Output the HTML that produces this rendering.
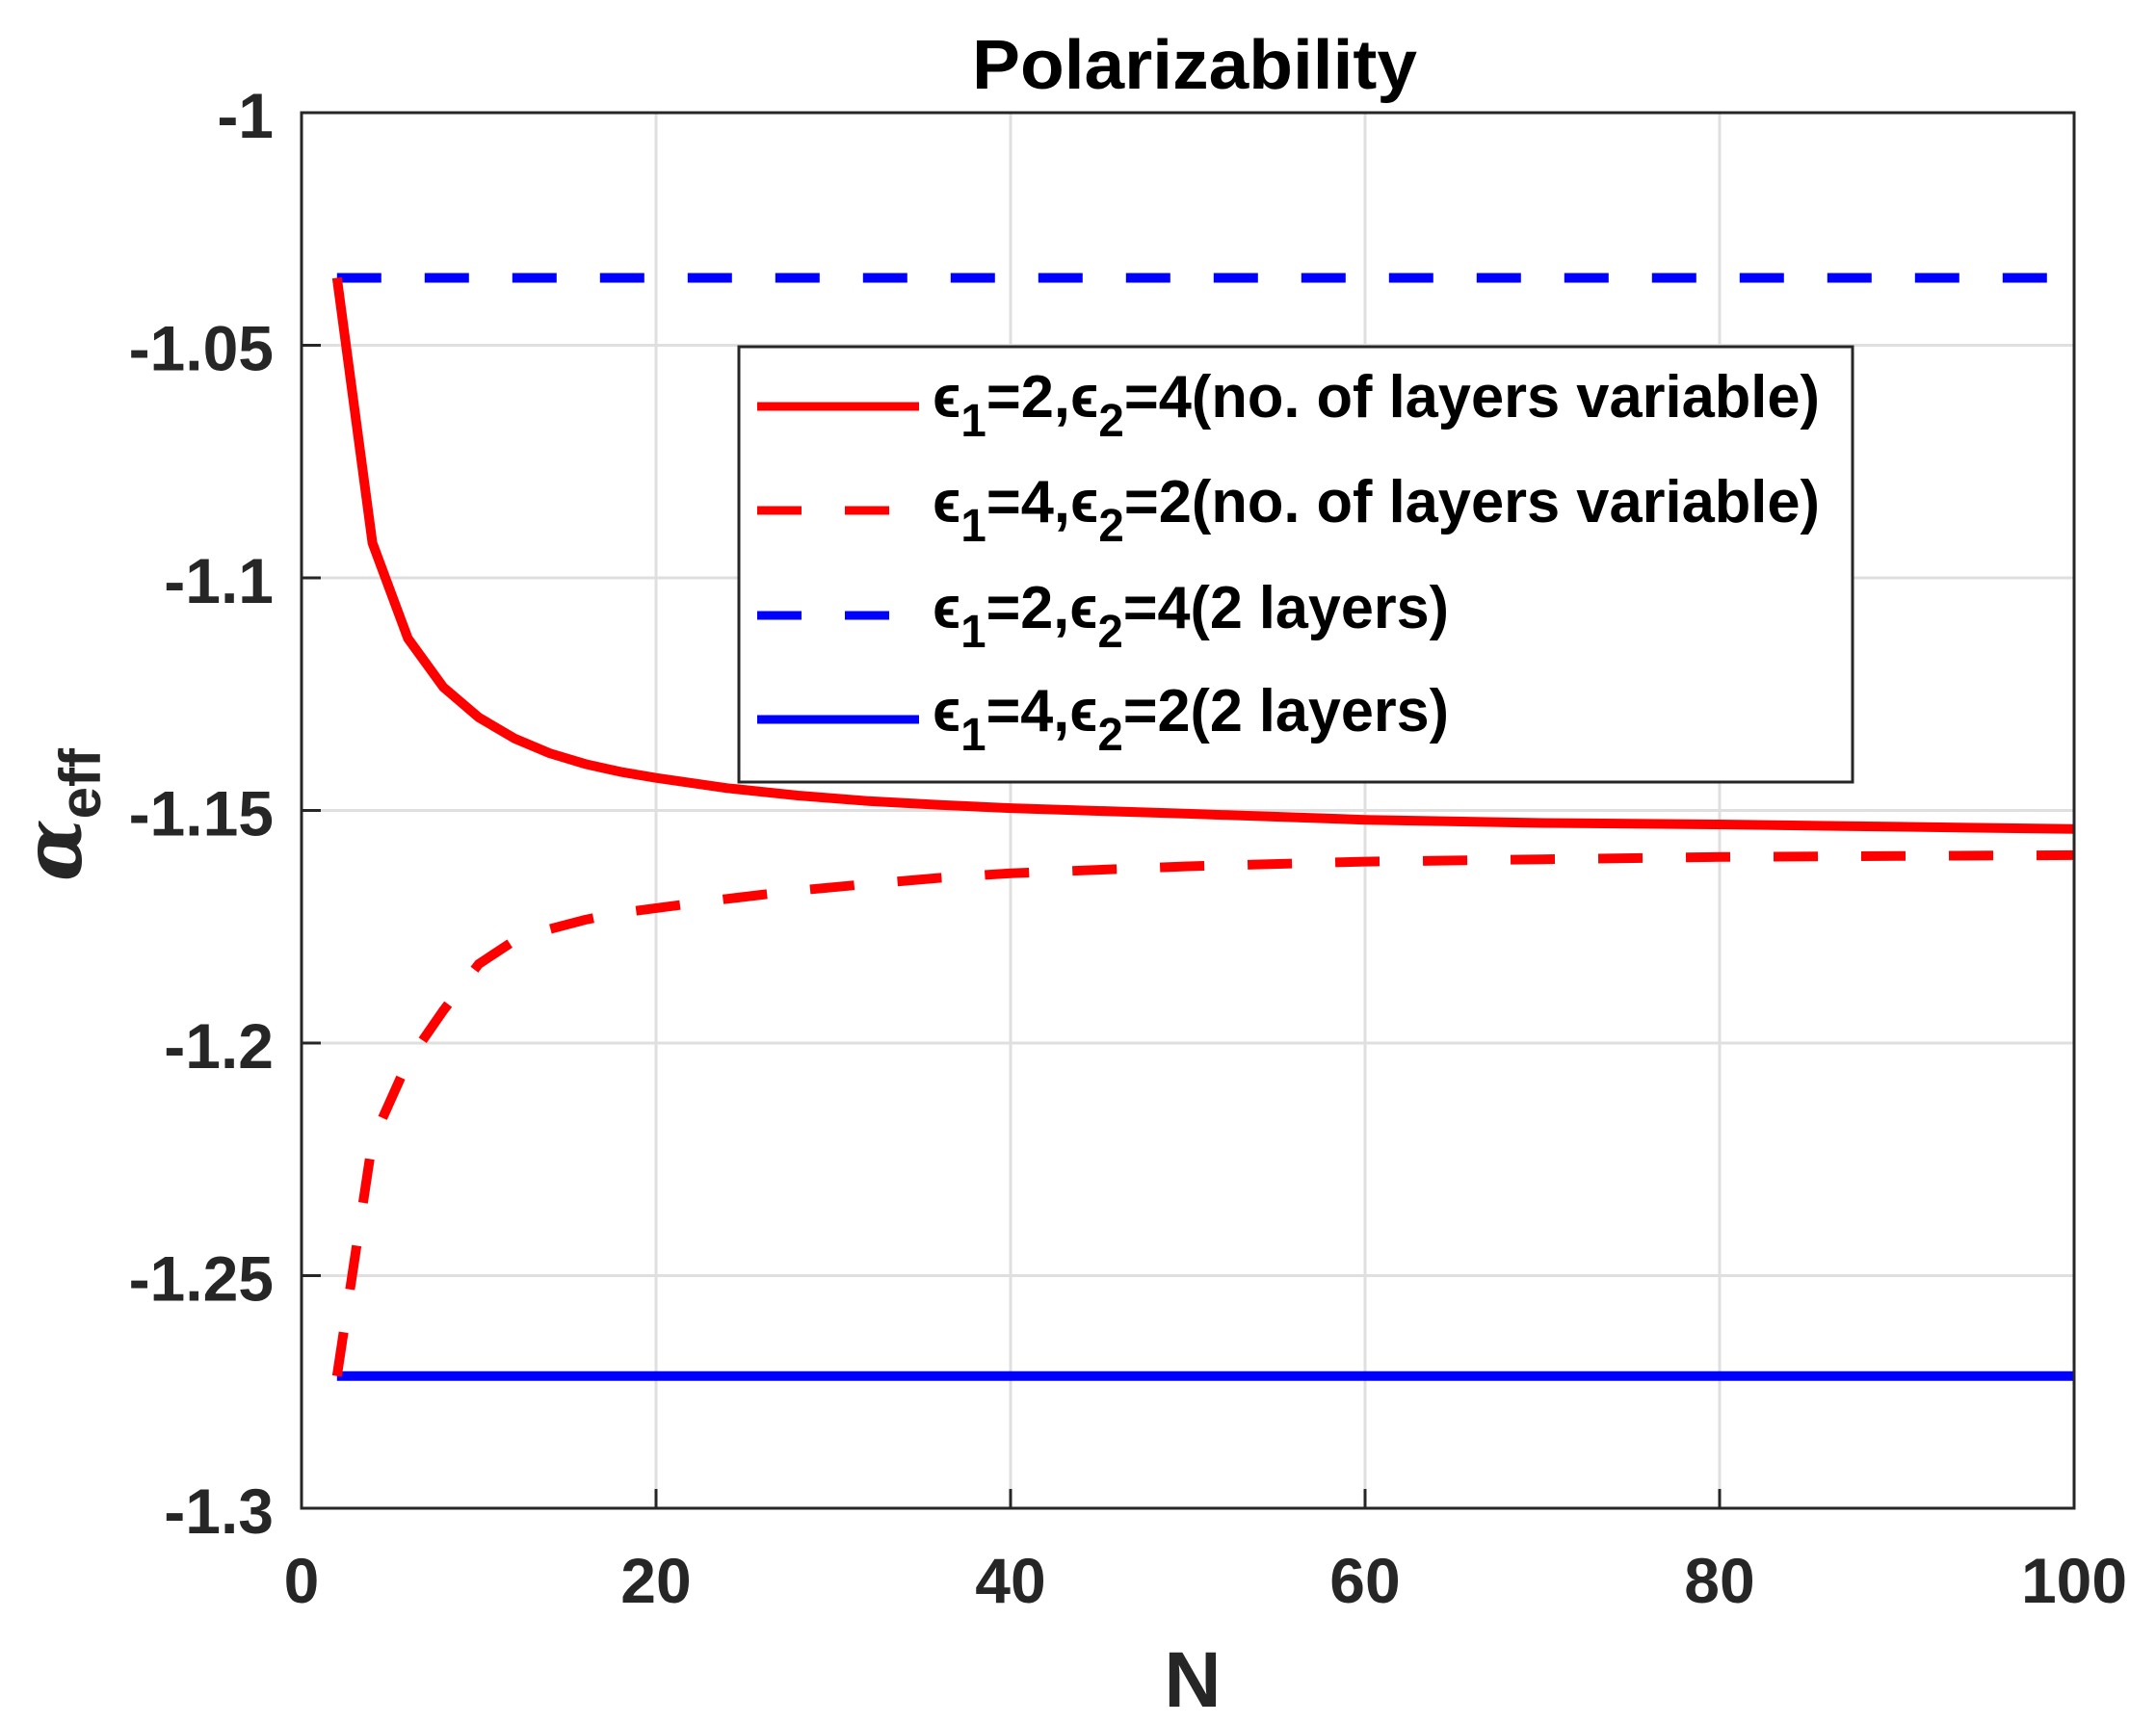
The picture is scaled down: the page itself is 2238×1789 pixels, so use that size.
<!DOCTYPE html>
<html><head><meta charset="utf-8"><style>
html,body{margin:0;padding:0;background:#fff}
svg{display:block;font-family:"Liberation Sans",sans-serif;font-weight:bold}
</style></head><body>
<svg id="chart" width="2238" height="1789" viewBox="0 0 2238 1789">
<rect width="2238" height="1789" fill="#fff"/>
<g id="grid"></g>
<g id="series"></g>
<rect x="313" y="117" width="1840" height="1449" fill="none" stroke="#262626" stroke-width="3"/>
<g id="ticks"></g>
<text x="1240" y="92" text-anchor="middle" font-size="72" textLength="462" lengthAdjust="spacingAndGlyphs" fill="#000">Polarizability</text>
<text x="1238" y="1772" text-anchor="middle" font-size="82" fill="#262626">N</text>
<text transform="translate(84,846) rotate(-90)" text-anchor="middle" font-size="84" fill="#262626"><tspan font-family="DejaVu Serif, serif" font-style="italic">α</tspan><tspan font-size="60" dy="20">eff</tspan></text>
<g>
<rect x="767" y="360" width="1156" height="452" fill="#fff" stroke="#262626" stroke-width="3"/>
<line x1="786" y1="422" x2="954" y2="422" stroke="#f00" stroke-width="9"/>
<line x1="786" y1="530" x2="954" y2="530" stroke="#f00" stroke-width="9" stroke-dasharray="46,45"/>
<line x1="786" y1="639" x2="954" y2="639" stroke="#00f" stroke-width="9" stroke-dasharray="46,45"/>
<line x1="786" y1="747" x2="954" y2="747" stroke="#00f" stroke-width="9"/>
<text x="968" y="433" font-size="62" textLength="921" lengthAdjust="spacingAndGlyphs" fill="#000">ϵ<tspan font-size="48" dy="20">1</tspan><tspan dy="-20">=2,ϵ</tspan><tspan font-size="48" dy="20">2</tspan><tspan dy="-20">=4(no. of layers variable)</tspan></text>
<text x="968" y="542" font-size="62" textLength="921" lengthAdjust="spacingAndGlyphs" fill="#000">ϵ<tspan font-size="48" dy="20">1</tspan><tspan dy="-20">=4,ϵ</tspan><tspan font-size="48" dy="20">2</tspan><tspan dy="-20">=2(no. of layers variable)</tspan></text>
<text x="968" y="652" font-size="62" textLength="536" lengthAdjust="spacingAndGlyphs" fill="#000">ϵ<tspan font-size="48" dy="20">1</tspan><tspan dy="-20">=2,ϵ</tspan><tspan font-size="48" dy="20">2</tspan><tspan dy="-20">=4(2 layers)</tspan></text>
<text x="968" y="759" font-size="62" textLength="536" lengthAdjust="spacingAndGlyphs" fill="#000">ϵ<tspan font-size="48" dy="20">1</tspan><tspan dy="-20">=4,ϵ</tspan><tspan font-size="48" dy="20">2</tspan><tspan dy="-20">=2(2 layers)</tspan></text>
</g>
</svg>
<script>
const nValues = [2,4,6,8,10,12,14,16,18,20,24,28,32,36,40,50,60,70,80,90,100];
const redSolid = [-1.0355,-1.0925,-1.113,-1.1235,-1.130,-1.1345,-1.1377,-1.140,-1.1417,-1.143,-1.1452,-1.1468,-1.148,-1.1488,-1.1495,-1.1507,-1.152,-1.1527,-1.153,-1.1535,-1.154];
const redDashed = [-1.2716,-1.221,-1.204,-1.193,-1.183,-1.178,-1.1755,-1.1735,-1.172,-1.171,-1.169,-1.1672,-1.1658,-1.1645,-1.1635,-1.162,-1.161,-1.1605,-1.160,-1.1598,-1.1596];
const blueDashedValue = [-1.0355, -1.0355];
const blueSolidValue = [-1.2716, -1.2716];
const constN = [2, 100];
const xTicks = [0,20,40,60,80,100];
const yTicks = [-1,-1.05,-1.1,-1.15,-1.2,-1.25,-1.3];
const yTickLabels = ["-1","-1.05","-1.1","-1.15","-1.2","-1.25","-1.3"];

const X0=313,X1=2153,Y0=117,Y1=1566;
const xs = v => X0 + (v-0)/(100-0)*(X1-X0);
const ys = v => Y0 + (-1 - v)/0.3*(Y1-Y0);
const NS="http://www.w3.org/2000/svg";
const grid=document.getElementById('grid'), ticks=document.getElementById('ticks'), series=document.getElementById('series');
function mk(tag, attrs, parent){const e=document.createElementNS(NS,tag);for(const k in attrs)e.setAttribute(k,attrs[k]);parent.appendChild(e);return e;}

xTicks.forEach(t=>{
  const x=xs(t);
  const g=mk('line',{x1:x,y1:Y0,x2:x,y2:Y1,stroke:'#dfdfdf','stroke-width':3},grid);
  
  
  const tk=mk('line',{x1:x,y1:Y1,x2:x,y2:Y1-20,stroke:'#262626','stroke-width':3},ticks);
  
  
  const lb=mk('text',{x:x,y:1664,'text-anchor':'middle','font-size':66,fill:'#262626'},ticks);
  lb.textContent=String(t);
  
  
});
yTicks.forEach((t,i)=>{
  const y=ys(t);
  const g=mk('line',{x1:X0,y1:y,x2:X1,y2:y,stroke:'#dfdfdf','stroke-width':3},grid);
  
  
  const tk=mk('line',{x1:X0,y1:y,x2:X0+20,y2:y,stroke:'#262626','stroke-width':3},ticks);
  
  
  const lb=mk('text',{x:284,y:y+26,'text-anchor':'end','font-size':66,fill:'#262626'},ticks);
  lb.textContent=yTickLabels[i];
  
  
});
function pts(n,v){return n.map((a,i)=>xs(a).toFixed(1)+','+ys(v[i]).toFixed(1)).join(' ');}
const l1=mk('polyline',{points:pts(constN,blueDashedValue),fill:'none',stroke:'#00f','stroke-width':10,'stroke-dasharray':'46,45'},series);


const l2=mk('polyline',{points:pts(constN,blueSolidValue),fill:'none',stroke:'#00f','stroke-width':10},series);


const l3=mk('polyline',{points:pts(nValues,redSolid),fill:'none',stroke:'#f00','stroke-width':10,'stroke-linejoin':'round'},series);


const l4=mk('polyline',{points:pts(nValues,redDashed),fill:'none',stroke:'#f00','stroke-width':10,'stroke-dasharray':'46,45'},series);


</script>
</body></html>
